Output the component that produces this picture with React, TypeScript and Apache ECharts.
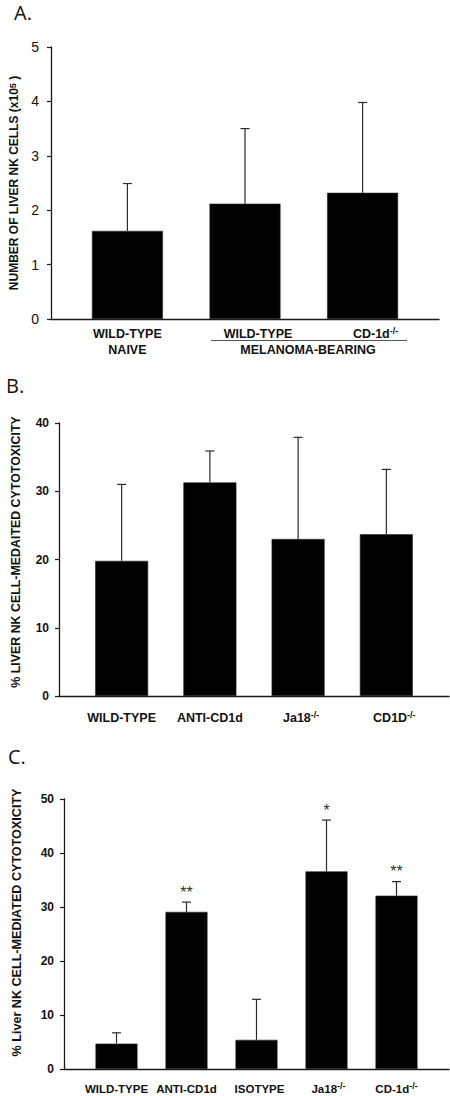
import React, { useEffect, useRef } from 'react';
import * as echarts from 'echarts';

// ---------- Data ----------
// Panel A: number of liver NK cells (x10^5)
const A_LABELS = ['WILD-TYPE\nNAIVE', 'WILD-TYPE', 'CD-1d'];
const A_SUPS = ['', '', '-/-'];
const A_VALUES = [1.62, 2.12, 2.32];
const A_ERRORS = [0.87, 1.38, 1.66];
const A_TICKS = [0, 1, 2, 3, 4, 5];

// Panel B: % liver NK cell-mediated cytotoxicity
const B_LABELS = ['WILD-TYPE', 'ANTI-CD1d', 'Ja18', 'CD1D'];
const B_SUPS = ['', '', '-/-', '-/-'];
const B_VALUES = [19.8, 31.3, 23.0, 23.7];
const B_ERRORS = [11.2, 4.6, 14.9, 9.5];
const B_TICKS = [0, 10, 20, 30, 40];

// Panel C: % liver NK cell-mediated cytotoxicity
const C_LABELS = ['WILD-TYPE', 'ANTI-CD1d', 'ISOTYPE', 'Ja18', 'CD-1d'];
const C_SUPS = ['', '', '', '-/-', '-/-'];
const C_VALUES = [4.7, 29.1, 5.4, 36.6, 32.1];
const C_ERRORS = [2.0, 1.8, 7.5, 9.5, 2.6];
const C_STARS = ['', '**', '', '*', '**'];
const C_TICKS = [0, 10, 20, 30, 40, 50];

const FONT = '"Liberation Sans", Arial, Helvetica, sans-serif';
const LETTER_FONT = '"Open Sans", "Noto Sans", sans-serif';
const AXIS_COLOR = '#1a1a1a';
const TEXT_COLOR = '#111';

function yAxisFor(
  gridIndex: number,
  ticks: number[],
  name: string,
  nameGap: number,
  labelFont: { size: number; weight: string; margin: number },
  nameFontSize: number,
  namePadding: number[]
) {
  return {
    gridIndex,
    type: 'value',
    min: ticks[0],
    max: ticks[ticks.length - 1],
    interval: ticks[1] - ticks[0],
    axisLine: { show: true, onZero: false, lineStyle: { color: AXIS_COLOR, width: 1.3 } },
    axisTick: { show: true, length: 4, inside: false, lineStyle: { color: AXIS_COLOR, width: 1.2 } },
    axisLabel: {
      fontFamily: FONT,
      fontSize: labelFont.size,
      fontWeight: labelFont.weight,
      color: TEXT_COLOR,
      margin: labelFont.margin,
    },
    splitLine: { show: false },
    name,
    nameLocation: 'middle',
    nameRotate: 90,
    nameGap,
    nameTextStyle: {
      fontFamily: FONT,
      fontSize: nameFontSize,
      fontWeight: 'bold',
      color: TEXT_COLOR,
      padding: namePadding,
      rich: {
        sup: { fontFamily: FONT, fontSize: 9, fontWeight: 'bold', color: TEXT_COLOR, verticalAlign: 'top', lineHeight: 9 },
      },
    },
  };
}

function xAxisFor(gridIndex: number, count: number, pad: number) {
  return {
    gridIndex,
    type: 'value',
    min: -pad,
    max: count - 1 + pad,
    axisLine: { show: true, onZero: false, lineStyle: { color: AXIS_COLOR, width: 1.3 } },
    axisTick: { show: false },
    axisLabel: { show: false },
    splitLine: { show: false },
  };
}

function barSeries(
  idx: number,
  labels: string[],
  sups: string[],
  values: number[],
  barWidth: number,
  labelStyle: { size: number; distance: number; lineHeight: number },
  shifts: number[]
) {
  return {
    type: 'bar',
    xAxisIndex: idx,
    yAxisIndex: idx,
    barWidth,
    itemStyle: { color: '#000', borderColor: '#2a2a2a', borderWidth: 0.6 },
    data: values.map((v, i) => ({
      value: [i, v],
      name: labels[i],
      label: { offset: [shifts[i] || 0, 0] },
    })),
    label: {
      show: true,
      position: 'bottom',
      distance: labelStyle.distance,
      fontFamily: FONT,
      fontSize: labelStyle.size,
      fontWeight: 'bold',
      color: TEXT_COLOR,
      lineHeight: labelStyle.lineHeight,
      align: 'center',
      formatter: (p: any) => {
        const s = sups[p.dataIndex];
        return s ? `${labels[p.dataIndex]}{sup|${s}}` : labels[p.dataIndex];
      },
      rich: {
        sup: { fontFamily: FONT, fontSize: 9, fontWeight: 'bold', color: TEXT_COLOR, verticalAlign: 'top', lineHeight: 10 },
      },
    },
    z: 2,
  };
}

function errorSeries(idx: number, values: number[], errors: number[], stars?: string[]) {
  return {
    type: 'custom',
    xAxisIndex: idx,
    yAxisIndex: idx,
    encode: { x: 0, y: [1, 2] },
    data: values.map((v, i) => [i, v, v + errors[i]]),
    z: 5,
    renderItem: (params: any, api: any) => {
      const x = api.value(0);
      const lo = api.coord([x, api.value(1)]);
      const hi = api.coord([x, api.value(2)]);
      const cap = 4.5;
      const lineStyle = { stroke: '#2b2b2b', lineWidth: 1.2 };
      const children: any[] = [
        { type: 'line', shape: { x1: lo[0], y1: lo[1], x2: hi[0], y2: hi[1] }, style: lineStyle },
        { type: 'line', shape: { x1: hi[0] - cap, y1: hi[1], x2: hi[0] + cap, y2: hi[1] }, style: lineStyle },
      ];
      const star = stars ? stars[params.dataIndex] : '';
      if (star) {
        children.push({
          type: 'text',
          x: hi[0],
          y: hi[1] - 10,
          style: {
            text: star,
            fill: '#333',
            font: `16px ${FONT}`,
            align: 'center',
            verticalAlign: 'middle',
          },
        });
      }
      return { type: 'group', children };
    },
  };
}

export default function App() {
  const ref = useRef<HTMLDivElement>(null);

  useEffect(() => {
    if (!ref.current) return;
    const chart = echarts.init(ref.current, undefined, { renderer: 'svg' });

    const letter = (t: string, x: number, y: number) => ({
      type: 'text',
      x,
      y,
      style: { text: t, font: `20px ${LETTER_FONT}`, fill: '#111', align: 'left', verticalAlign: 'middle' },
    });

    const option: any = {
      animation: false,
      backgroundColor: '#fff',
      grid: [
        { left: 51, top: 47, width: 388, height: 272 },
        { left: 59, top: 423, width: 390, height: 273 },
        { left: 64, top: 799, width: 385, height: 270 },
      ],
      xAxis: [
        xAxisFor(0, A_VALUES.length, 0.65),
        xAxisFor(1, B_VALUES.length, 0.71),
        xAxisFor(2, C_VALUES.length, 0.75),
      ],
      yAxis: [
        yAxisFor(0, A_TICKS, 'NUMBER OF LIVER NK CELLS (x10{sup|5} )', 30,
          { size: 14, weight: 'normal', margin: 12 }, 12, [0, 0, 0, 0]),
        yAxisFor(1, B_TICKS, '% LIVER NK CELL-MEDAITED CYTOTOXICITY', 37,
          { size: 12, weight: 'bold', margin: 10 }, 12.4, [0, 0, 0, 15]),
        yAxisFor(2, C_TICKS, '% Liver NK CELL-MEDIATED CYTOTOXICITY', 41,
          { size: 12, weight: 'bold', margin: 10 }, 12.6, [0, 0, 0, 23]),
      ],
      series: [
        barSeries(0, A_LABELS, A_SUPS, A_VALUES, 71, { size: 12.5, distance: 7, lineHeight: 16 }, [0, 13, 13]),
        errorSeries(0, A_VALUES, A_ERRORS),
        barSeries(1, B_LABELS, B_SUPS, B_VALUES, 53, { size: 12.5, distance: 14, lineHeight: 16 }, [0, 0, 3, 8]),
        errorSeries(1, B_VALUES, B_ERRORS),
        barSeries(2, C_LABELS, C_SUPS, C_VALUES, 42, { size: 11.5, distance: 12, lineHeight: 16 }, [0, 0, 3, 2, 0]),
        errorSeries(2, C_VALUES, C_ERRORS, C_STARS),
      ],
      graphic: [
        letter('A.', 14, 12),
        letter('B.', 6, 385),
        letter('C.', 8, 756),
        {
          type: 'line',
          shape: { x1: 211, y1: 340.5, x2: 407, y2: 340.5 },
          style: { stroke: '#555', lineWidth: 1 },
        },
        {
          type: 'text',
          x: 308,
          y: 350,
          style: {
            text: 'MELANOMA-BEARING',
            font: `bold 12.5px ${FONT}`,
            fill: TEXT_COLOR,
            align: 'center',
            verticalAlign: 'middle',
          },
        },
      ],
    };

    chart.setOption(option);
    return () => chart.dispose();
  }, []);

  return (
    <div
      ref={ref}
      style={{ position: 'absolute', left: 0, top: 0, width: 450, height: 1096, background: '#fff' }}
    />
  );
}
